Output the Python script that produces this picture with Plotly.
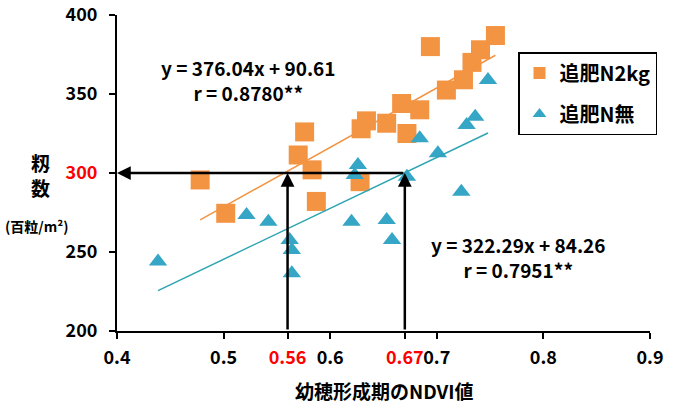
import plotly.graph_objects as go

# ---------------- data ----------------
n2kg_x = [0.478, 0.502, 0.570, 0.576, 0.583, 0.587, 0.628, 0.629, 0.634, 0.653,
          0.667, 0.672, 0.684, 0.694, 0.709, 0.725, 0.733, 0.741, 0.755]
n2kg_y = [295.6, 274.5, 311.4, 326.0, 302.0, 282.0, 294.5, 328.0, 333.0, 331.5,
          344.0, 325.0, 340.0, 380.0, 352.5, 359.0, 370.0, 378.0, 387.0]

none_x = [0.4385, 0.5215, 0.542, 0.562, 0.564, 0.564, 0.620, 0.623, 0.626, 0.653,
          0.658, 0.672, 0.684, 0.701, 0.723, 0.728, 0.736, 0.748]
none_y = [244.0, 273.4, 269.2, 257.6, 251.3, 236.5, 269.2, 298.7, 305.1, 270.3,
          257.6, 297.7, 322.0, 312.5, 288.2, 330.4, 335.6, 358.9]

series_names = ["追肥N2kg", "追肥N無"]
fit_slope = [376.04, 322.29]
fit_intercept = [90.61, 84.26]
fit_r = ["0.8780**", "0.7951**"]

target_y = 300
ndvi_read = [0.56, 0.67]

x_tickvals = [0.4, 0.5, 0.56, 0.6, 0.67, 0.7, 0.8, 0.9]
x_ticktext = ["0.4", "0.5", "0.56", "0.6", "0.67", "0.7", "0.8", "0.9"]
x_red = ["0.56", "0.67"]
y_tickvals = [200, 250, 300, 350, 400]
y_ticktext = ["200", "250", "300", "350", "400"]
y_red = ["300"]

x_title = "幼穂形成期のNDVI値"
y_title_chars = ["籾", "数"]
y_unit = "(百粒/m²)"

# ---------------- styling ----------------
ORANGE = "#F39443"
BLUE = "#35A6C6"
BLUE_LINE = "#2FA5B3"
FONT = "Noto Sans CJK JP"

L, R, T, B = 117, 28, 15, 72
W, H = 678, 403
PW, PH = W - L - R, H - T - B


def px(xp):
    return (xp - L) / PW


def py(yp):
    return (H - B - yp) / PH


def red(lbl, reds):
    return f'<span style="color:#FF0000">{lbl}</span>' if lbl in reds else lbl


fig = go.Figure()

fig.add_trace(go.Scatter(
    x=n2kg_x, y=n2kg_y, mode="markers", name=series_names[0], legendgroup="a",
    marker=dict(symbol="square", size=19, color=ORANGE, line=dict(width=0)),
))
fig.add_trace(go.Scatter(
    x=none_x, y=none_y, mode="markers", name=series_names[1], legendgroup="b",
    marker=dict(symbol="triangle-up", size=16, color=BLUE, line=dict(width=0)),
))

# trend lines over each series' x range
for xs, m, c, col in [(n2kg_x, fit_slope[0], fit_intercept[0], ORANGE),
                      (none_x, fit_slope[1], fit_intercept[1], BLUE_LINE)]:
    x0, x1 = min(xs), max(xs)
    fig.add_trace(go.Scatter(
        x=[x0, x1], y=[m * x0 + c, m * x1 + c], mode="lines",
        line=dict(color=col, width=1.5), showlegend=False, hoverinfo="skip",
    ))

annotations = []
# arrows
for xv in ndvi_read:
    annotations.append(dict(
        x=xv, y=target_y, ax=xv, ay=200, xref="x", yref="y", axref="x", ayref="y",
        text="", showarrow=True, arrowhead=2, arrowsize=1.1, arrowwidth=2.5,
        arrowcolor="black", standoff=0, startstandoff=0,
    ))
annotations.append(dict(
    x=0.4, y=target_y, ax=max(ndvi_read), ay=target_y, xref="x", yref="y",
    axref="x", ayref="y", text="", showarrow=True, arrowhead=2, arrowsize=1.1,
    arrowwidth=2.5, arrowcolor="black", standoff=0, startstandoff=0,
))

# equations (two lines each)
eq_pos = [(248, 80), (518, 257)]
for i, (cx, cy) in enumerate(eq_pos):
    annotations.append(dict(
        x=px(cx), y=py(cy), xref="paper", yref="paper", showarrow=False,
        text=f"y = {fit_slope[i]:.2f}x + {fit_intercept[i]:.2f}<br>r = {fit_r[i]}",
        font=dict(size=19, color="black", family=FONT, weight="bold"),
        xanchor="center", yanchor="middle", align="center",
    ))

# axis titles
annotations.append(dict(
    x=px(384), y=py(390), xref="paper", yref="paper", showarrow=False,
    text=x_title, font=dict(size=19, color="black", family=FONT, weight="bold"),
    xanchor="center", yanchor="middle",
))
annotations.append(dict(
    x=px(40), y=py(175), xref="paper", yref="paper", showarrow=False,
    text="<br>".join(y_title_chars),
    font=dict(size=19, color="black", family=FONT, weight="bold"),
    xanchor="center", yanchor="middle", align="center",
))
annotations.append(dict(
    x=px(36), y=py(226), xref="paper", yref="paper", showarrow=False,
    text=y_unit, font=dict(size=14, color="black", family=FONT, weight="bold"),
    xanchor="center", yanchor="middle",
))

fig.update_layout(
    width=W, height=H,
    margin=dict(l=L, r=R, t=T, b=B, autoexpand=False),
    paper_bgcolor="white", plot_bgcolor="white",
    font=dict(family=FONT, size=18, color="black", weight="bold"),
    showlegend=True,
    legend=dict(
        x=px(518), y=py(52), xanchor="left", yanchor="top",
        bordercolor="black", borderwidth=1.5, bgcolor="white",
        font=dict(size=20, family=FONT, weight="bold"),
        tracegroupgap=12, itemsizing="constant",
    ),
    annotations=annotations,
    xaxis=dict(
        range=[0.4, 0.9], showgrid=False, zeroline=False, automargin=False,
        showline=True, linecolor="black", linewidth=2,
        ticks="outside", ticklen=6, tickwidth=2, tickcolor="black",
        tickmode="array", tickvals=x_tickvals, tickangle=0,
        ticktext=[red(t, x_red) for t in x_ticktext],
        tickfont=dict(size=18, family=FONT, weight="bold"),
        ticklabelstandoff=3,
    ),
    yaxis=dict(
        range=[200, 400], showgrid=False, zeroline=False, automargin=False,
        showline=True, linecolor="black", linewidth=2,
        ticks="outside", ticklen=6, tickwidth=2, tickcolor="black",
        tickmode="array", tickvals=y_tickvals,
        ticktext=[red(t, y_red) for t in y_ticktext],
        tickfont=dict(size=18, family=FONT, weight="bold"),
        ticklabelstandoff=8,
    ),
)

fig.write_html("out.html", config={"displayModeBar": False})

# remove the browser's default body margin so the figure sits at the page origin
with open("out.html", encoding="utf-8") as f:
    html = f.read()
html = html.replace("<body>", '<body style="margin:0;padding:0;overflow:hidden">', 1)
with open("out.html", "w", encoding="utf-8") as f:
    f.write(html)
